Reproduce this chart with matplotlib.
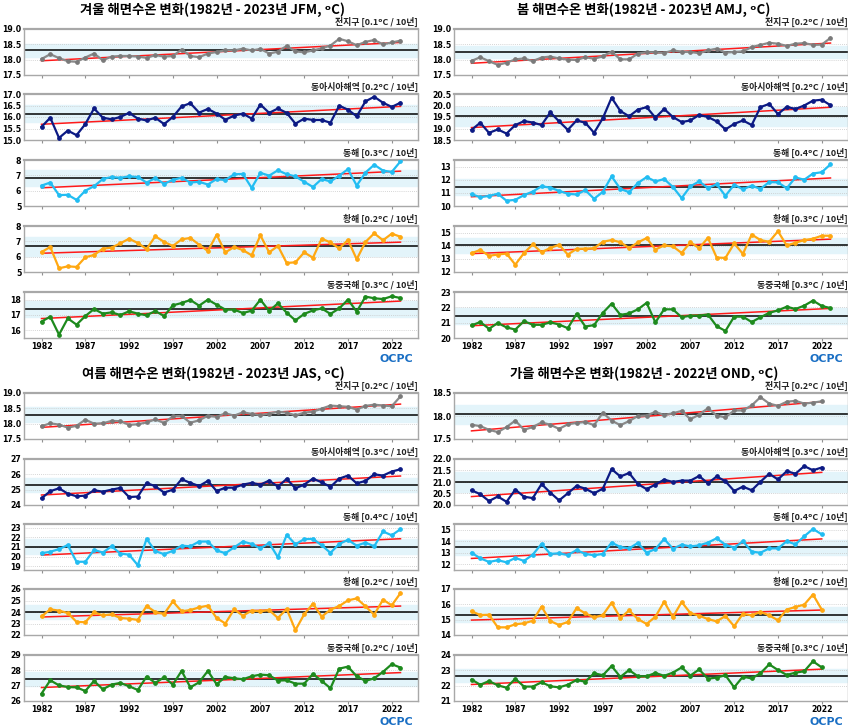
import numpy as np
import matplotlib
matplotlib.use('Agg')
import matplotlib.pyplot as plt

plt.rcParams['font.family'] = ['Noto Sans CJK KR', 'DejaVu Sans']

# years covered by each season
years_main = list(range(1982, 2024))
years_ond = list(range(1982, 2023))

region_names = ['전지구', '동아시아해역', '동해', '황해', '동중국해']
line_colors = ['#8a8a8a', '#0c1a84', '#22bdf2', '#ffa812', '#1d8a1d']
marker_colors = ['#7a7a7a', '#0c1a84', '#22bdf2', '#ffa812', '#1d8a1d']

# 겨울 (JFM)
jfm_global = [18.02, 18.18, 18.05, 17.95, 17.93, 18.07, 18.20, 17.98, 18.10, 18.12,
              18.12, 18.10, 18.06, 18.15, 18.10, 18.12, 18.33, 18.12, 18.08, 18.20,
              18.25, 18.31, 18.30, 18.36, 18.30, 18.35, 18.20, 18.26, 18.45, 18.27,
              18.24, 18.30, 18.37, 18.46, 18.68, 18.60, 18.47, 18.58, 18.64, 18.50,
              18.56, 18.62]
jfm_eastasia = [15.57, 15.97, 15.09, 15.41, 15.21, 15.69, 16.37, 15.97, 15.90, 16.00,
                16.18, 15.93, 15.85, 15.97, 15.69, 16.00, 16.46, 16.60, 16.19, 16.35,
                16.15, 15.88, 16.06, 16.15, 15.93, 16.54, 16.18, 16.37, 16.18, 15.71,
                15.93, 15.87, 15.87, 15.75, 16.49, 16.32, 16.03, 16.68, 16.88, 16.62,
                16.44, 16.62]
jfm_eastsea = [6.33, 6.53, 5.71, 5.73, 5.40, 6.00, 6.29, 6.76, 6.89, 6.84,
               6.93, 6.89, 6.53, 6.82, 6.44, 6.71, 6.84, 6.53, 6.58, 6.40,
               6.76, 6.69, 7.07, 7.09, 6.18, 7.16, 6.98, 7.33, 7.07, 6.93,
               6.58, 6.24, 6.76, 6.60, 6.98, 7.40, 6.33, 7.18, 7.69, 7.31,
               7.22, 7.91]
jfm_yellow = [6.30, 6.63, 5.24, 5.37, 5.33, 5.96, 6.11, 6.52, 6.59, 6.87,
              7.17, 6.89, 6.50, 7.33, 6.96, 6.70, 7.13, 7.22, 6.78, 6.37,
              7.43, 6.28, 6.63, 6.43, 6.09, 7.39, 6.28, 6.70, 5.59, 5.63,
              6.28, 5.93, 7.17, 6.93, 6.54, 7.09, 5.83, 6.96, 7.52, 7.07,
              7.50, 7.30]
jfm_ecs = [16.57, 16.89, 15.72, 16.78, 16.37, 16.93, 17.39, 17.09, 17.17, 17.00,
           17.24, 17.09, 16.98, 17.26, 16.93, 17.63, 17.78, 17.98, 17.61, 18.00,
           17.67, 17.35, 17.35, 17.13, 17.28, 18.00, 17.26, 17.76, 17.15, 16.65,
           17.07, 17.30, 17.43, 17.07, 17.43, 18.00, 17.22, 18.20, 18.09, 18.04,
           18.22, 18.11]
jfm_normals = [18.30, 16.15, 6.82, 6.67, 17.41]
jfm_trends = ['0.1', '0.2', '0.3', '0.2', '0.3']

# 봄 (AMJ)
amj_global = [17.96, 18.08, 17.95, 17.83, 17.90, 18.01, 18.04, 17.95, 18.07, 18.10,
              18.04, 18.00, 17.99, 18.08, 18.03, 18.11, 18.26, 18.01, 18.01, 18.20,
              18.24, 18.24, 18.22, 18.30, 18.26, 18.25, 18.21, 18.30, 18.36, 18.23,
              18.25, 18.27, 18.41, 18.48, 18.55, 18.52, 18.45, 18.52, 18.54, 18.48,
              18.49, 18.71]
amj_eastasia = [18.94, 19.25, 18.81, 18.96, 18.78, 19.15, 19.32, 19.26, 19.15, 19.70,
                19.31, 18.94, 19.35, 19.25, 18.81, 19.45, 20.34, 19.76, 19.53, 19.82,
                19.93, 19.47, 19.85, 19.50, 19.28, 19.35, 19.59, 19.50, 19.31, 18.96,
                19.20, 19.35, 19.15, 19.93, 20.07, 19.63, 19.94, 19.85, 20.00, 20.21,
                20.25, 20.01]
amj_eastsea = [10.90, 10.67, 10.77, 10.93, 10.40, 10.47, 10.83, 11.10, 11.50, 11.40,
               11.15, 10.93, 10.88, 11.20, 10.55, 11.08, 12.25, 11.30, 11.05, 11.75,
               12.20, 11.87, 12.05, 11.45, 10.60, 11.50, 11.87, 11.37, 11.65, 10.77,
               11.62, 11.27, 11.55, 11.30, 11.82, 11.80, 11.35, 12.17, 12.00, 12.47,
               12.57, 13.17]
amj_yellow = [13.43, 13.68, 13.23, 13.33, 13.40, 12.56, 13.45, 14.10, 13.50, 13.83,
              14.07, 13.33, 13.76, 13.78, 13.81, 14.30, 14.43, 14.27, 13.81, 14.25,
              14.58, 13.71, 14.02, 13.95, 13.45, 14.27, 13.81, 14.60, 13.10, 13.07,
              14.17, 13.38, 14.85, 14.43, 14.30, 15.10, 14.02, 14.22, 14.43, 14.53,
              14.76, 14.76]
amj_ecs = [20.82, 21.04, 20.60, 20.98, 20.69, 20.55, 21.10, 20.86, 20.86, 21.02,
           20.88, 20.64, 21.57, 20.75, 20.84, 21.64, 22.24, 21.51, 21.60, 21.87,
           22.29, 21.02, 21.87, 21.87, 21.35, 21.46, 21.46, 21.53, 20.77, 20.46,
           21.39, 21.39, 21.04, 21.35, 21.64, 21.80, 22.04, 21.89, 22.11, 22.44,
           22.09, 21.95]
amj_normals = [18.25, 19.53, 11.45, 14.03, 21.42]
amj_trends = ['0.2', '0.2', '0.4', '0.3', '0.3']

# 여름 (JAS)
jas_global = [17.92, 18.01, 17.97, 17.87, 17.93, 18.13, 18.00, 18.01, 18.09, 18.08,
              17.96, 17.98, 18.04, 18.14, 18.02, 18.24, 18.25, 18.03, 18.11, 18.26,
              18.22, 18.34, 18.26, 18.37, 18.32, 18.28, 18.33, 18.39, 18.36, 18.27,
              18.36, 18.39, 18.49, 18.59, 18.57, 18.55, 18.46, 18.58, 18.62, 18.59,
              18.57, 18.89]
jas_eastasia = [24.44, 24.90, 25.09, 24.74, 24.57, 24.61, 24.96, 24.87, 25.00, 25.11,
                24.52, 24.55, 25.44, 25.22, 24.81, 25.00, 25.68, 25.44, 25.24, 25.57,
                24.91, 25.13, 25.13, 25.33, 25.44, 25.33, 25.59, 25.20, 25.70, 25.09,
                25.33, 25.72, 25.48, 25.18, 25.72, 25.92, 25.41, 25.57, 26.00, 25.92,
                26.18, 26.33]
jas_eastsea = [20.35, 20.50, 20.78, 21.20, 19.46, 19.46, 20.70, 20.42, 21.07, 20.32,
               20.20, 19.10, 21.85, 20.57, 20.25, 20.60, 21.14, 21.07, 21.57, 21.57,
               20.64, 20.35, 20.96, 21.57, 21.32, 20.85, 21.42, 19.93, 22.26, 21.28,
               21.82, 21.85, 21.18, 20.39, 21.32, 21.74, 21.14, 21.46, 21.07, 22.62,
               22.22, 22.86]
jas_yellow = [23.62, 24.23, 24.12, 23.91, 23.14, 23.11, 23.97, 23.71, 23.80, 23.48,
              23.42, 23.31, 24.52, 24.00, 23.83, 24.92, 24.06, 24.17, 24.40, 24.55,
              23.48, 23.00, 24.23, 23.68, 24.12, 24.06, 24.17, 23.48, 24.26, 22.42,
              23.80, 24.72, 23.60, 24.20, 24.52, 25.01, 25.18, 24.49, 23.77, 25.07,
              24.58, 25.64]
jas_ecs = [26.48, 27.35, 27.02, 26.91, 26.89, 26.65, 27.31, 26.76, 27.07, 27.18,
           26.96, 26.72, 27.59, 27.18, 27.55, 27.07, 27.96, 26.89, 27.22, 27.96,
           27.09, 27.57, 27.48, 27.42, 27.61, 27.72, 27.68, 27.33, 27.35, 27.13,
           27.13, 27.76, 27.31, 26.83, 28.11, 28.24, 27.61, 27.31, 27.48, 27.90,
           28.40, 28.18]
jas_normals = [18.29, 25.33, 21.03, 24.00, 27.42]
jas_trends = ['0.2', '0.3', '0.4', '0.2', '0.2']

# 가을 (OND)
ond_global = [17.81, 17.78, 17.70, 17.65, 17.76, 17.90, 17.70, 17.76, 17.86, 17.81,
              17.72, 17.82, 17.85, 17.87, 17.80, 18.07, 17.90, 17.80, 17.89, 18.00,
              18.01, 18.09, 18.02, 18.06, 18.11, 17.93, 18.03, 18.17, 18.01, 17.97,
              18.12, 18.12, 18.23, 18.41, 18.27, 18.22, 18.31, 18.33, 18.27, 18.29,
              18.32]
ond_eastasia = [20.64, 20.47, 20.17, 20.37, 20.14, 20.67, 20.36, 20.30, 20.91, 20.54,
                20.20, 20.51, 20.83, 20.71, 20.51, 20.71, 21.56, 21.24, 21.39, 20.91,
                20.69, 20.89, 21.10, 21.00, 21.06, 21.06, 21.26, 20.94, 21.24, 21.03,
                20.61, 20.80, 20.64, 21.01, 21.36, 21.11, 21.47, 21.36, 21.69, 21.51,
                21.63]
ond_eastsea = [13.00, 12.52, 12.20, 12.35, 12.17, 12.55, 12.29, 12.84, 13.77, 12.90,
               12.95, 12.80, 13.23, 12.90, 12.78, 12.90, 13.88, 13.50, 13.38, 13.85,
               13.00, 13.32, 14.20, 13.35, 13.70, 13.55, 13.64, 13.88, 14.26, 13.70,
               13.44, 14.00, 13.10, 13.00, 13.38, 13.38, 14.00, 13.73, 14.43, 15.07,
               14.60]
ond_yellow = [15.55, 15.30, 15.32, 14.50, 14.50, 14.70, 14.76, 14.93, 15.85, 14.91,
              14.65, 14.85, 15.75, 15.41, 15.15, 15.30, 16.11, 15.11, 15.60, 15.04,
              14.72, 15.19, 16.17, 15.17, 16.15, 15.43, 15.26, 15.04, 14.89, 15.24,
              14.57, 15.39, 15.28, 15.51, 15.28, 14.96, 15.66, 15.83, 15.98, 16.64,
              15.66]
ond_ecs = [22.40, 22.06, 22.30, 22.02, 21.87, 22.45, 21.94, 21.94, 22.22, 21.96,
           21.89, 22.06, 22.37, 22.26, 22.81, 22.68, 23.28, 22.57, 23.02, 22.61,
           22.61, 22.83, 22.64, 22.85, 23.19, 22.66, 23.06, 22.45, 22.53, 22.68,
           21.89, 22.59, 22.47, 22.81, 23.39, 23.02, 22.70, 22.85, 22.94, 23.59,
           23.19]
ond_normals = [18.04, 21.00, 13.47, 15.32, 22.66]
ond_trends = ['0.2', '0.3', '0.4', '0.2', '0.3']

W, H = 848, 728
fig = plt.figure(figsize=(W / 100, H / 100), dpi=100)


def px_rect(left, top, width, height):
    return [left / W, 1 - (top + height) / H, width / W, height / H]


def draw_panel(left, width, tops, title, title_x, title_y, logo_x, years, series,
               normals, trends, limits, ticks):
    fig.text(title_x / W, 1 - title_y / H, title, ha='center', va='center',
             fontsize=9.6, fontweight='bold')
    for i in range(5):
        ax = fig.add_axes(px_rect(left, tops[i], width, 46))
        vals = np.array(series[i])
        spread = np.std(vals)
        ax.axhspan(normals[i] - spread, normals[i] + spread, color='#e3f4fa', zorder=0)
        for t in ticks[i]:
            ax.axhline(t, color='#c8c8c8', lw=0.6, ls=(0, (1, 1.5)), zorder=1)
        ax.axhline(normals[i], color='black', lw=1.1, zorder=2)
        coef = np.polyfit(years, vals, 1)
        ax.plot([years[0], years[-1]], np.polyval(coef, [years[0], years[-1]]),
                color='#ff1a1a', lw=1.1, zorder=3)
        ax.plot(years, vals, color=line_colors[i], lw=1.6, marker='o', ms=2.4,
                mfc=marker_colors[i], mec=marker_colors[i], zorder=4)
        ax.set_xlim(1980, 2025)
        ax.set_ylim(*limits[i])
        ax.set_yticks(ticks[i])
        step = ticks[i][1] - ticks[i][0]
        ax.set_yticklabels([('%.1f' % t) if step < 1 else ('%d' % t) for t in ticks[i]],
                           fontsize=5.6, fontweight='bold', family='DejaVu Sans')
        ax.set_xticks(range(1982, 2023, 5))
        if i == 4:
            ax.set_xticklabels([str(y) for y in range(1982, 2023, 5)], fontsize=5.6,
                               fontweight='bold', family='DejaVu Sans')
        else:
            ax.set_xticklabels([])
        ax.tick_params(axis='x', length=2, width=0.8, color='#909090', pad=1)
        ax.tick_params(axis='y', length=0, pad=2)
        for s in ax.spines.values():
            s.set_color('#a8a8a8')
            s.set_linewidth(1.0)
        ax.spines['top'].set_linewidth(1.6)
        ax.text(1.0, 1.04, region_names[i] + ' [' + trends[i] + 'ᵒC / 10년]',
                transform=ax.transAxes, ha='right', va='bottom', fontsize=6.4,
                fontweight='bold', color='#222222')
    # OCPC logo under the bottom axis
    fig.text(logo_x / W, 1 - (tops[4] + 67) / H, 'OCPC', ha='center', va='center',
             fontsize=8, fontweight='bold', color='#1a6fc4', family='DejaVu Sans')


top_rows = [29, 94, 160, 226, 292]
bottom_rows = [393, 459, 524, 589, 655]

draw_panel(24, 394, top_rows, '겨울 해면수온 변화(1982년 - 2023년 JFM, ᵒC)', 213, 10, 396,
           years_main, [jfm_global, jfm_eastasia, jfm_eastsea, jfm_yellow, jfm_ecs],
           jfm_normals, jfm_trends,
           [(17.5, 19.0), (15.0, 17.0), (5, 8), (5, 8), (15.5, 18.5)],
           [[17.5, 18.0, 18.5, 19.0], [15.0, 15.5, 16.0, 16.5, 17.0], [5, 6, 7, 8],
            [5, 6, 7, 8], [16, 17, 18]])

draw_panel(454, 394, top_rows, '봄 해면수온 변화(1982년 - 2023년 AMJ, ᵒC)', 644, 10, 826,
           years_main, [amj_global, amj_eastasia, amj_eastsea, amj_yellow, amj_ecs],
           amj_normals, amj_trends,
           [(17.5, 19.0), (18.5, 20.5), (10, 13.5), (12, 15.5), (20, 23)],
           [[17.5, 18.0, 18.5, 19.0], [18.5, 19.0, 19.5, 20.0, 20.5], [10, 11, 12, 13],
            [12, 13, 14, 15], [20, 21, 22, 23]])

draw_panel(24, 394, bottom_rows, '여름 해면수온 변화(1982년 - 2023년 JAS, ᵒC)', 213, 374, 396,
           years_main, [jas_global, jas_eastasia, jas_eastsea, jas_yellow, jas_ecs],
           jas_normals, jas_trends,
           [(17.5, 19.0), (24, 27), (18.6, 23.4), (22, 26), (26, 29)],
           [[17.5, 18.0, 18.5, 19.0], [24, 25, 26, 27], [19, 20, 21, 22, 23],
            [22, 23, 24, 25, 26], [26, 27, 28, 29]])

draw_panel(454, 394, bottom_rows, '가을 해면수온 변화(1982년 - 2022년 OND, ᵒC)', 644, 374, 826,
           years_ond, [ond_global, ond_eastasia, ond_eastsea, ond_yellow, ond_ecs],
           ond_normals, ond_trends,
           [(17.5, 18.5), (20.0, 22.0), (11.5, 15.5), (14, 17), (21, 24)],
           [[17.5, 18.0, 18.5], [20.0, 20.5, 21.0, 21.5, 22.0], [12, 13, 14, 15],
            [14, 15, 16, 17], [21, 22, 23, 24]])

fig.savefig('out.png', dpi=100)
